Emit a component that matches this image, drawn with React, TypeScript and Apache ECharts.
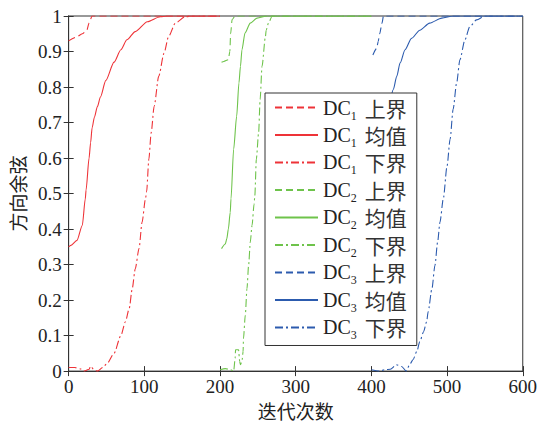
import React, { useEffect, useRef } from 'react';
import * as echarts from 'echarts';

const xTicks = [0, 100, 200, 300, 400, 500, 600];
const yTicks = [0, 0.1, 0.2, 0.3, 0.4, 0.5, 0.6, 0.7, 0.8, 0.9, 1];

const seriesNames = [
  'DC1 上界', 'DC1 均值', 'DC1 下界',
  'DC2 上界', 'DC2 均值', 'DC2 下界',
  'DC3 上界', 'DC3 均值', 'DC3 下界',
];

const dc1Upper = [[0, 0.93], [10, 0.94], [18, 0.95], [24, 0.96], [27, 0.98], [31, 1], [200, 1]];
const dc1Mean = [[0, 0.35], [3, 0.354], [11, 0.368], [18, 0.41], [22, 0.485], [23, 0.51], [27, 0.6], [29, 0.643], [31, 0.685], [34, 0.715], [38, 0.745], [42, 0.772], [49, 0.818], [60, 0.87], [69, 0.905], [77, 0.933], [88, 0.956], [104, 0.984], [121, 0.998], [130, 1], [200, 1]];
const dc1Lower = [[0, 0.01], [8, 0.01], [16, 0.006], [20, 0], [27, 0.005], [29, 0.014], [33, 0.005], [38, 0], [45, 0.01], [51, 0.022], [60, 0.05], [69, 0.1], [75, 0.139], [80, 0.176], [84, 0.232], [88, 0.288], [93, 0.345], [97, 0.419], [101.5, 0.485], [103, 0.505], [106, 0.597], [109, 0.671], [113, 0.746], [119, 0.83], [126, 0.895], [132, 0.942], [141, 0.98], [154, 0.998], [165, 1], [200, 1]];

const dc2Upper = [[202, 0.87], [205, 0.872], [211, 0.877], [213, 0.9], [214, 0.95], [216, 0.99], [220, 1], [400, 1]];
const dc2Mean = [[202, 0.345], [207, 0.358], [209, 0.373], [211, 0.4], [213.5, 0.447], [214.5, 0.485], [218, 0.625], [222, 0.718], [225, 0.811], [227, 0.858], [229, 0.905], [233, 0.952], [240, 0.98], [249, 0.994], [262, 1], [400, 1]];
const dc2Lower = [[200, 0.004], [207, 0.007], [214, 0.004], [218, 0], [220, 0.036], [220.5, 0.06], [224.5, 0.06], [226, 0.027], [227, 0.018], [229, 0.027], [230.5, 0.055], [231, 0.092], [233.4, 0.158], [235.6, 0.232], [237.8, 0.298], [240, 0.363], [242.3, 0.41], [245, 0.47], [246, 0.494], [248, 0.597], [251, 0.671], [253, 0.765], [255.5, 0.858], [260, 0.942], [261, 0.96], [264, 0.98], [269, 1], [400, 1]];

const dc3Upper = [[402, 0.89], [407, 0.909], [409, 0.928], [411, 0.95], [414, 0.98], [416, 1], [600, 1]];
const dc3Mean = [[400, 0.35], [404, 0.36], [407, 0.4], [410, 0.48], [413, 0.6], [418, 0.7], [424, 0.76], [429, 0.793], [433.5, 0.83], [438, 0.868], [444.5, 0.905], [453, 0.937], [464, 0.96], [477, 0.98], [493, 0.994], [508, 1], [600, 1]];
const dc3Lower = [[400, 0.004], [411, 0], [418, 0.004], [425, 0.005], [433, 0.018], [440, 0.013], [446, 0], [451, 0.02], [455, 0.032], [460, 0.055], [464, 0.083], [469, 0.111], [473, 0.139], [475, 0.167], [480, 0.232], [484, 0.298], [487.5, 0.363], [490.6, 0.419], [495, 0.485], [500, 0.578], [504, 0.653], [508, 0.737], [512.6, 0.811], [517, 0.877], [523.6, 0.933], [530, 0.97], [539, 0.989], [550, 1], [600, 1]];

const seriesData = [dc1Upper, dc1Mean, dc1Lower, dc2Upper, dc2Mean, dc2Lower, dc3Upper, dc3Mean, dc3Lower];
const groupColors = ['#EE3338', '#6EC34B', '#2C5BAE'];
const dashStyles: any[] = [[7, 4], 'solid', [8, 3, 2, 3]];

const serif = 'Liberation Serif';
const cjk = 'Noto Sans CJK SC';

export default function App() {
  const ref = useRef<HTMLDivElement>(null);
  useEffect(() => {
    document.body.style.margin = '0';
    const chart = echarts.init(ref.current!, null, { renderer: 'svg' });
    const series = seriesData.map((d, i) => ({
      name: seriesNames[i],
      type: 'line',
      data: d,
      symbol: 'none',
      showSymbol: false,
      smooth: 0.25,
      smoothMonotone: 'x',
      xAxisIndex: 0,
      yAxisIndex: 0,
      lineStyle: { color: groupColors[Math.floor(i / 3)], width: 1.1, type: dashStyles[i % 3] },
      itemStyle: { color: groupColors[Math.floor(i / 3)] },
      z: 2,
    }));
    const axisCommon = {
      axisLine: { show: true, lineStyle: { color: '#333', width: 1 } },
      axisTick: { show: true, inside: true, length: 5, lineStyle: { color: '#333' } },
      splitLine: { show: false },
    };
    chart.setOption({
      animation: false,
      backgroundColor: '#fff',
      grid: { left: 68, right: 17, top: 16, bottom: 52, show: true, borderColor: '#333', borderWidth: 1, backgroundColor: 'transparent' },
      xAxis: [
        {
          type: 'value', min: 0, max: 600, interval: 100, position: 'bottom',
          ...axisCommon,
          axisLabel: { color: '#222', fontFamily: serif, fontSize: 19, margin: 6 },
          name: '迭代次数', nameLocation: 'middle', nameGap: 27,
          nameTextStyle: { fontFamily: cjk, fontSize: 19, color: '#222' },
        },
        {
          type: 'value', min: 0, max: 600, interval: 100, position: 'top',
          ...axisCommon, axisLabel: { show: false },
        },
      ],
      yAxis: [
        {
          type: 'value', min: 0, max: 1, interval: 0.1, position: 'left',
          ...axisCommon,
          axisLabel: { color: '#222', fontFamily: serif, fontSize: 19, margin: 7, formatter: (v: number) => String(Math.round(v * 10) / 10) },
          name: '方向余弦', nameLocation: 'middle', nameGap: 40, nameRotate: 90,
          nameTextStyle: { fontFamily: cjk, fontSize: 19, color: '#222' },
        },
        {
          type: 'value', min: 0, max: 1, interval: 0.1, position: 'right',
          ...axisCommon, axisLabel: { show: false },
        },
      ],
      legend: {
        orient: 'vertical',
        left: 265, top: 93,
        data: seriesNames,
        itemWidth: 43, itemHeight: 12, itemGap: 3, itemTextGap: 4,
        padding: [4, 10, 4, 9],
        backgroundColor: '#fff',
        borderColor: '#333', borderWidth: 1, borderRadius: 0,
        itemStyle: { opacity: 0 },
        z: 10,
        formatter: (name: string) => {
          const m = name.match(/DC(\d) (.*)/)!;
          return `{a|DC}{s|${m[1]}}{g| }{b|${m[2]}}`;
        },
        textStyle: {
          color: '#222',
          lineHeight: 20,
          rich: {
            a: { fontFamily: serif, fontSize: 20, color: '#222', lineHeight: 20 },
            s: { fontFamily: serif, fontSize: 12, color: '#222', verticalAlign: 'bottom', lineHeight: 12, padding: [0, 0, -4, 0] },
            g: { fontSize: 8, width: 8 },
            b: { fontFamily: cjk, fontSize: 21, color: '#333', lineHeight: 20 },
          },
        },
      },
      series,
    });
    return () => chart.dispose();
  }, []);
  return <div ref={ref} style={{ width: 540, height: 425 }} />;
}
